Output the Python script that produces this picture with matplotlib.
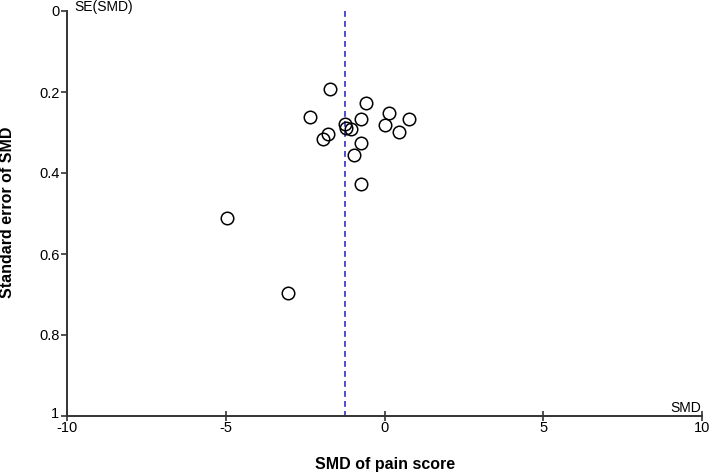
import matplotlib.pyplot as plt
import matplotlib.transforms as mtransforms

plt.rcParams["font.family"] = ["Liberation Sans", "DejaVu Sans"]

# study effect sizes (SMD) and their standard errors
smd = [-1.72, -0.57, -2.35, 0.14, 0.77, -0.75, 0.03, -1.24, -1.21, -1.07,
       0.46, -1.79, -1.94, -0.75, -0.97, -0.73, -4.96, -3.05]
se = [0.192, 0.227, 0.261, 0.252, 0.266, 0.266, 0.282, 0.280, 0.288, 0.292,
      0.299, 0.303, 0.315, 0.327, 0.355, 0.426, 0.512, 0.696]
pooled_smd = -1.24

x_ticks = [-10, -5, 0, 5, 10]
y_ticks = [0, 0.2, 0.4, 0.6, 0.8, 1]

W, H = 709, 474
fig = plt.figure(figsize=(W / 100, H / 100), dpi=100)
ax = fig.add_axes([67 / W, 1 - 416 / H, (702 - 67) / W, (416 - 11) / H])

ax.plot([pooled_smd, pooled_smd], [0, 1], color="#3030c8", lw=1.2,
        linestyle=(0, (3.5, 2.5)), zorder=1)
ax.plot(smd, se, "o", markersize=9, markerfacecolor="none",
        markeredgecolor="black", markeredgewidth=1.1, zorder=2,
        clip_on=False)

ax.set_xlim(-10, 10)
ax.set_ylim(1, 0)
ax.set_xticks(x_ticks)
ax.set_xticklabels([str(t) for t in x_ticks])
ax.set_yticks(y_ticks)
ax.set_yticklabels(["0", "0.2", "0.4", "0.6", "0.8", "1"])

for side in ["top", "right"]:
    ax.spines[side].set_visible(False)
for side in ["left", "bottom"]:
    ax.spines[side].set_color("#333333")
    ax.spines[side].set_linewidth(1.4)

ax.tick_params(axis="x", direction="inout", length=7, width=1.2,
               color="#333333", labelsize=10.5, pad=0)
ax.tick_params(axis="y", direction="out", length=4, width=1.2,
               color="#333333", labelsize=10.5, pad=1)

# the "1" label sits right against "-10"; lift it a little so they don't collide
last = ax.get_yticklabels()[-1]
last.set_transform(last.get_transform() +
                   mtransforms.ScaledTranslation(-1 / 100, 3 / 100, fig.dpi_scale_trans))

fig.text(74 / W, 1 - 7 / H, "SE(SMD)", fontsize=10, ha="left", va="center")
fig.text(701 / W, 1 - 408 / H, "SMD", fontsize=10, ha="right", va="center")

fig.text(385 / W, 1 - 464 / H, "SMD of pain score", fontsize=11.5,
         fontweight="bold", ha="center", va="center")
fig.text(8 / W, 1 - 212 / H, "Standard error of SMD", fontsize=11.5,
         fontweight="bold", ha="center", va="center", rotation=90)

fig.savefig("out.png", dpi=100)
